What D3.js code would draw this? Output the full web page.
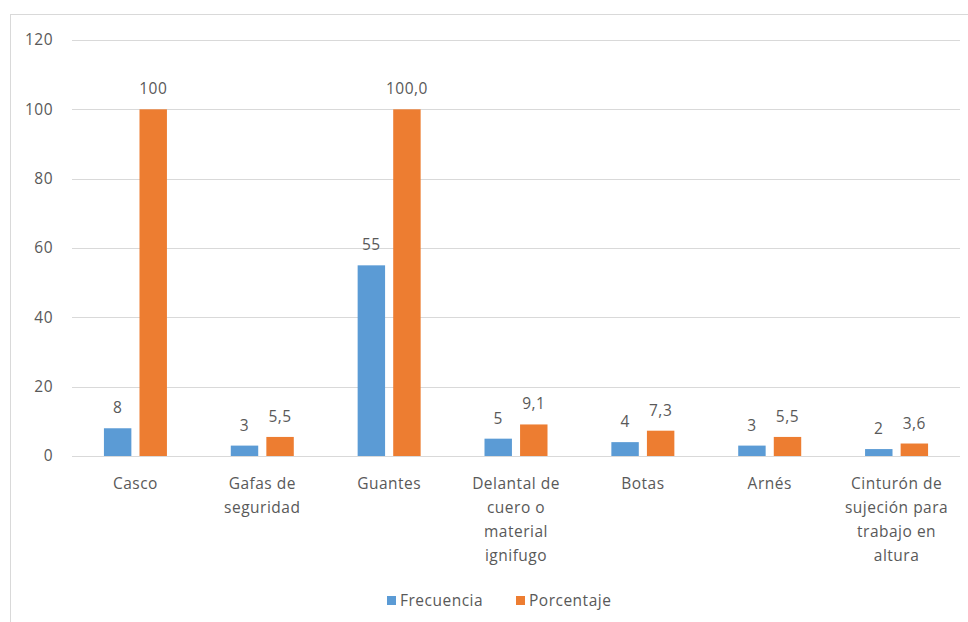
<!DOCTYPE html>
<html>
<head>
<meta charset="utf-8">
<script src="https://cdn.jsdelivr.net/npm/d3@7"></script>
<style>
  html, body { margin: 0; padding: 0; background: #fff; }
  svg text { font-family: "Open Sans", "Noto Sans", sans-serif; fill: #595959; letter-spacing: 0.5px; }
</style>
</head>
<body>
<svg id="chart" width="968" height="622"></svg>
<script>
// Equipment categories (multi-line labels)
const categories = [
  ["Casco"],
  ["Gafas de", "seguridad"],
  ["Guantes"],
  ["Delantal de", "cuero o", "material", "ignifugo"],
  ["Botas"],
  ["Arnés"],
  ["Cinturón de", "sujeción para", "trabajo en", "altura"]
];
const seriesNames = ["Frecuencia", "Porcentaje"];
const frecuencia = [8, 3, 55, 5, 4, 3, 2];
const porcentaje = [100, 5.5, 100.0, 9.1, 7.3, 5.5, 3.6];
const porcentajeLabels = ["100", "5,5", "100,0", "9,1", "7,3", "5,5", "3,6"];
const yTicks = [0, 20, 40, 60, 80, 100, 120];
const colors = ["#5B9BD5", "#ED7D31"];

const svg = d3.select("#chart");
const fontSize = "15.5px";

// outer frame
svg.append("rect")
  .attr("x", 10.5).attr("y", 14.5)
  .attr("width", 980).attr("height", 640)
  .attr("fill", "none").attr("stroke", "#d9d9d9");

const plot = { left: 72, right: 960, top: 40, bottom: 456 };
const keys = categories.map((c, i) => i);

const x0 = d3.scaleBand().domain(keys).range([plot.left, plot.right]).padding(0);
const groupW = 63;
const x1 = d3.scaleBand().domain(seriesNames)
  .range([(x0.bandwidth() - groupW) / 2, (x0.bandwidth() + groupW) / 2])
  .paddingInner(8 / 35);
const y = d3.scaleLinear().domain([0, 120]).range([plot.bottom, plot.top]);

// gridlines
const grid = svg.append("g")
  .attr("transform", `translate(${plot.left},0)`)
  .call(d3.axisLeft(y).tickValues(yTicks).tickSize(-(plot.right - plot.left)).tickFormat(""));
grid.select(".domain").remove();
grid.selectAll("line").attr("stroke", "#d9d9d9").attr("shape-rendering", "crispEdges");

// y tick labels
const yAxis = svg.append("g")
  .attr("transform", `translate(${plot.left - 19},0)`)
  .call(d3.axisLeft(y).tickValues(yTicks).tickSize(0).tickPadding(0));
yAxis.select(".domain").remove();
yAxis.selectAll("text").style("font-size", fontSize).attr("fill", "#595959");

// bars
const data = keys.map(i => [
  { key: "Frecuencia", value: frecuencia[i], label: String(frecuencia[i]) },
  { key: "Porcentaje", value: porcentaje[i], label: porcentajeLabels[i] }
]);

const groups = svg.append("g").selectAll("g")
  .data(data).join("g")
  .attr("transform", (d, i) => `translate(${x0(i)},0)`);

groups.selectAll("rect")
  .data(d => d).join("rect")
  .attr("x", d => x1(d.key))
  .attr("width", x1.bandwidth())
  .attr("y", d => y(d.value))
  .attr("height", d => y(0) - y(d.value))
  .attr("fill", (d, i) => colors[i]);

groups.selectAll("text.val")
  .data(d => d).join("text")
  .attr("class", "val")
  .attr("x", d => x1(d.key) + x1.bandwidth() / 2)
  .attr("y", d => y(d.value) - 15)
  .attr("text-anchor", "middle")
  .style("font-size", fontSize)
  .text(d => d.label);

// category labels
const catG = svg.append("g").selectAll("text")
  .data(categories).join("text")
  .attr("text-anchor", "middle")
  .attr("x", (d, i) => x0(i) + x0.bandwidth() / 2)
  .attr("y", 489)
  .style("font-size", fontSize);
catG.selectAll("tspan")
  .data(d => d).join("tspan")
  .attr("x", function () { return d3.select(this.parentNode).attr("x"); })
  .attr("dy", (d, j) => j === 0 ? 0 : 24)
  .text(d => d);

// legend
const legend = svg.append("g").attr("transform", "translate(387,600)");
const legendItems = legend.selectAll("g")
  .data(seriesNames).join("g")
  .attr("transform", (d, i) => `translate(${i * 129},0)`);
legendItems.append("rect")
  .attr("x", 0).attr("y", -4).attr("width", 9).attr("height", 9)
  .attr("fill", (d, i) => colors[i]);
legendItems.append("text")
  .attr("x", 13).attr("y", 6)
  .style("font-size", fontSize)
  .text(d => d);
</script>
</body>
</html>
